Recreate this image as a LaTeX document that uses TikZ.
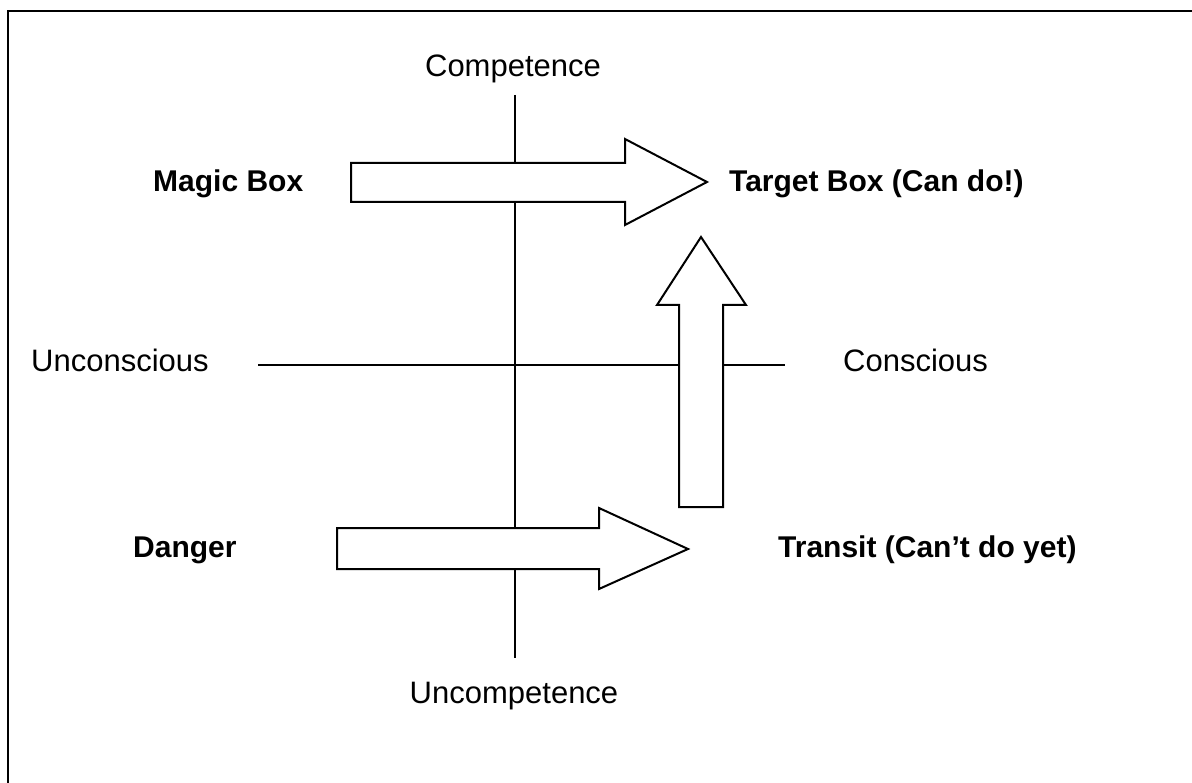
\documentclass[tikz,border=0pt]{standalone}
\usepackage{fontspec}
\setmainfont{Liberation Sans}
\begin{document}
\begin{tikzpicture}[x=1pt,y=-1pt,
  axis/.style={draw=black,line width=1.6pt},
  blockarrow/.style={draw=black,fill=white,line width=2pt,line join=miter},
  lbl/.style={inner sep=0pt,font=\fontsize{31}{36}\selectfont},
  blbl/.style={inner sep=0pt,font=\fontsize{30}{35}\selectfont\bfseries}]
\useasboundingbox (0,0) rectangle (1192,783);
% frame
\draw[line width=2pt] (8,783) -- (8,11) -- (1192,11);
% axes
\coordinate (vtop) at (515,95);
\coordinate (vbot) at (515,658);
\coordinate (hleft) at (258,365);
\coordinate (hright) at (785,365);
\draw[axis] (vtop) -- (vbot);
\draw[axis] (hleft) -- (hright);
% block arrows
\draw[blockarrow] (351,163) -- (625,163) -- (625,139) -- (707,182) -- (625,225) -- (625,202) -- (351,202) -- cycle;
\draw[blockarrow] (337,528) -- (599,528) -- (599,508) -- (688,549) -- (599,589) -- (599,569) -- (337,569) -- cycle;
\draw[blockarrow] (679,507) -- (679,305) -- (657,305) -- (701,237) -- (746,305) -- (723,305) -- (723,507) -- cycle;
% labels
\node[lbl,anchor=base] (comp) at (513,77) {Competence};
\node[lbl,anchor=base] (uncomp) at (514,703) {Uncompetence};
\node[lbl,anchor=base west] (uncon) at (31,372) {Unconscious};
\node[lbl,anchor=base west] (con) at (843,372) {Conscious};
\node[blbl,anchor=base west] (magic) at (153,192) {Magic Box};
\node[blbl,anchor=base west] (target) at (729,192) {Target Box (Can do!)};
\node[blbl,anchor=base west] (danger) at (133,557) {Danger};
\node[blbl,anchor=base west] (transit) at (778,557) {Transit (Can’t do yet)};
\end{tikzpicture}
\end{document}
